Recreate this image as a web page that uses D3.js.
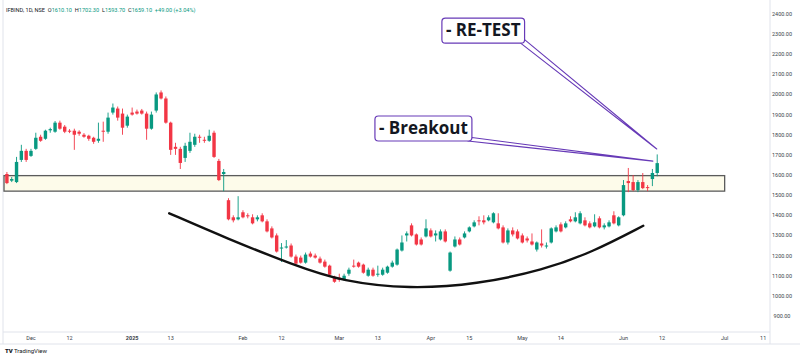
<!DOCTYPE html>
<html><head><meta charset="utf-8">
<script src="https://cdn.jsdelivr.net/npm/d3@7/dist/d3.min.js"></script>
<style>html,body{margin:0;padding:0;background:#fff;}svg{display:block;}</style>
</head><body>
<script>
// ---- data ----
const opens  = [1605,1572,1565,1675,1720,1695,1730,1790,1780,1822,1815,1860,1840,1820,1820,1815,1800,1795,1785,1770,1820,1815,1910,1930,1905,1845,1910,1915,1920,1905,1830,1920,2010,1980,1860,1740,1730,1685,1720,1750,1790,1775,1770,1810,1670,1605,1475,1390,1380,1415,1400,1390,1380,1400,1370,1335,1300,1235,1240,1250,1195,1190,1165,1210,1200,1185,1170,1150,1095,1090,1080,1110,1150,1165,1155,1100,1130,1105,1105,1115,1145,1155,1225,1300,1350,1305,1280,1295,1325,1300,1280,1320,1125,1245,1280,1290,1320,1345,1375,1375,1375,1365,1360,1340,1265,1325,1320,1300,1285,1270,1230,1260,1245,1265,1320,1355,1340,1380,1370,1360,1375,1360,1345,1385,1340,1345,1400,1350,1400,1570,1565,1525,1565,1540,1580,1610.10];
const highs  = [1615,1590,1690,1750,1730,1730,1810,1800,1825,1835,1868,1870,1848,1828,1830,1822,1808,1800,1790,1860,1865,1910,1955,1940,1930,1900,1935,1925,1928,1915,1915,2010,2020,1990,1865,1760,1740,1760,1810,1805,1800,1790,1825,1820,1680,1630,1485,1400,1495,1425,1410,1405,1400,1410,1380,1345,1310,1262,1277,1260,1205,1200,1215,1220,1210,1195,1180,1155,1100,1110,1110,1140,1180,1170,1160,1140,1140,1150,1140,1150,1175,1235,1300,1320,1360,1310,1290,1380,1335,1325,1330,1330,1220,1295,1290,1320,1345,1375,1395,1400,1400,1415,1410,1350,1335,1340,1330,1310,1295,1310,1270,1330,1265,1340,1350,1365,1370,1395,1415,1420,1390,1370,1405,1395,1360,1375,1420,1395,1575,1635,1600,1575,1610,1550,1630,1702.30];
const lows   = [1555,1565,1560,1665,1665,1690,1725,1765,1775,1810,1810,1825,1808,1808,1725,1795,1785,1770,1755,1760,1765,1805,1900,1870,1800,1835,1895,1900,1900,1775,1825,1910,1975,1855,1700,1700,1630,1665,1710,1740,1760,1760,1765,1685,1570,1520,1375,1365,1375,1385,1385,1355,1370,1365,1315,1285,1215,1168,1235,1190,1150,1160,1160,1190,1185,1160,1140,1100,1065,1070,1075,1100,1140,1140,1110,1095,1095,1095,1100,1110,1140,1150,1220,1270,1295,1250,1250,1290,1290,1270,1275,1265,1120,1240,1250,1285,1315,1340,1350,1355,1370,1360,1330,1260,1255,1295,1280,1260,1265,1250,1220,1240,1235,1260,1315,1315,1335,1365,1365,1355,1345,1335,1340,1335,1330,1340,1355,1345,1395,1515,1520,1515,1530,1520,1545,1593.70];
const closes = [1560,1580,1665,1720,1675,1720,1785,1770,1820,1828,1860,1830,1815,1815,1800,1805,1790,1780,1765,1780,1815,1885,1935,1885,1835,1890,1900,1905,1905,1830,1900,2000,1980,1860,1725,1730,1660,1745,1765,1790,1785,1770,1795,1690,1575,1615,1380,1375,1390,1390,1395,1360,1390,1370,1320,1290,1220,1240,1245,1195,1160,1165,1205,1195,1190,1165,1145,1105,1070,1080,1100,1130,1145,1145,1115,1130,1100,1110,1130,1145,1165,1230,1265,1310,1300,1255,1255,1335,1295,1310,1320,1270,1215,1280,1255,1310,1340,1365,1370,1365,1390,1410,1335,1265,1325,1305,1285,1265,1275,1255,1265,1250,1250,1335,1340,1320,1360,1370,1390,1410,1350,1340,1365,1340,1350,1365,1360,1390,1550,1560,1525,1565,1535,1535,1610,1659.10];

// x-axis ticks (bar index -> label)
const tickIndex  = [5, 13, 26, 34, 49, 57, 69, 77, 88, 96, 107, 115, 128, 136, 149, 157];
const tickLabels = ["Dec","12","2025","13","Feb","12","Mar","13","Apr","15","May","14","Jun","12","Jul","11"];
const boldTicks  = ["2025"];

// price axis ticks
const priceTicks = [900,1000,1100,1200,1300,1400,1500,1600,1700,1800,1900,2000,2100,2200,2300,2400];

// support zone [startIndex, endIndex, low, high]
const zone = [-0.6, 149, 1520, 1597];

// rounding-bottom arc (bar index, price)
const arcIdx   = [33.7, 45.6, 59.5, 69.8, 83.7, 97.5, 111.4, 121.7, 132.1];
const arcPrice = [1410, 1286, 1153, 1070, 1034, 1057, 1128, 1219, 1348];

// callouts: text, box left index, box top price, tip index, tip price
const calloutText  = ["- RE-TEST", "- Breakout"];
const calloutBoxX  = [90.3, 76.4];
const calloutBoxY  = [2379, 1893];
const calloutTipX  = [134.9, 134.1];
const calloutTipY  = [1729, 1669];

const header = [
  ["IFBIND, 1D, NSE  ", "#131722"],
  ["O", "#131722"], ["1610.10  ", "#089981"],
  ["H", "#131722"], ["1702.30  ", "#089981"],
  ["L", "#131722"], ["1593.70  ", "#089981"],
  ["C", "#131722"], ["1659.10  ", "#089981"],
  ["+49.00 (+3.04%)", "#089981"]
];

// ---- drawing ----
const W = 800, H = 359;
const UP = "#089981", DOWN = "#F23645", PURPLE = "#673ab7", AXIS = "#e0e3eb";
const svg = d3.select("body").append("svg").attr("width", W).attr("height", H);

const x = d3.scaleLinear().domain([0, 157]).range([6.9, 763.2]);
const y = d3.scaleLinear().domain([900, 2400]).range([316, 13.9]);

// frame
svg.append("line").attr("x1", 770).attr("x2", 770).attr("y1", 0).attr("y2", 344).attr("stroke", AXIS);
svg.append("line").attr("x1", 3).attr("x2", 770).attr("y1", 332).attr("y2", 332).attr("stroke", AXIS);
svg.append("line").attr("x1", 0).attr("x2", 800).attr("y1", 344).attr("y2", 344).attr("stroke", AXIS);
svg.append("line").attr("x1", 3).attr("x2", 3).attr("y1", 0).attr("y2", 344).attr("stroke", AXIS);

// zone
svg.append("rect")
  .attr("x", x(zone[0])).attr("y", y(zone[3]))
  .attr("width", x(zone[1]) - x(zone[0])).attr("height", y(zone[2]) - y(zone[3]))
  .attr("fill", "#fdfbea").attr("stroke", "#5b5b5b").attr("stroke-width", 1.3);

// candles
const n = opens.length;
const idx = d3.range(n);
const bw = 3.4;
const g = svg.append("g");
g.selectAll("line.wick").data(idx).join("line")
  .attr("x1", i => x(i)).attr("x2", i => x(i))
  .attr("y1", i => y(highs[i])).attr("y2", i => y(lows[i]))
  .attr("stroke", i => closes[i] >= opens[i] ? UP : DOWN).attr("stroke-width", 0.9);
g.selectAll("rect.body").data(idx).join("rect")
  .attr("x", i => x(i) - bw / 2)
  .attr("y", i => y(Math.max(opens[i], closes[i])))
  .attr("width", bw)
  .attr("height", i => Math.max(1, Math.abs(y(opens[i]) - y(closes[i]))))
  .attr("fill", i => closes[i] >= opens[i] ? UP : DOWN);

// arc
const arcPts = arcIdx.map((v, i) => [x(v), y(arcPrice[i])]);
svg.append("path").attr("d", d3.line().curve(d3.curveBasis)(arcPts))
  .attr("fill", "none").attr("stroke", "#111").attr("stroke-width", 2.4).attr("stroke-linecap", "round");

// callouts
calloutText.forEach((t, i) => {
  const bx = x(calloutBoxX[i]), by = y(calloutBoxY[i]);
  const txt = svg.append("text").attr("x", bx + 4).attr("y", by + 18)
    .attr("font-family", "Open Sans").attr("font-weight", 700).attr("font-size", 17)
    .attr("fill", "#131722").text(t);
  const tw = txt.node().getComputedTextLength();
  const bwid = tw + 8, bh = 25;
  const tx = x(calloutTipX[i]), ty = y(calloutTipY[i]);
  svg.insert("path", "text")
    .attr("d", `M${bx + bwid - 4},${by + bh} L${tx},${ty} L${bx + bwid},${by + bh - 3.5} Z`)
    .attr("fill", "#fff").attr("stroke", PURPLE).attr("stroke-width", 1.1).attr("stroke-linejoin", "round");
  svg.insert("rect", "text")
    .attr("x", bx).attr("y", by).attr("width", bwid).attr("height", bh).attr("rx", 3.5)
    .attr("fill", "#fff").attr("stroke", PURPLE).attr("stroke-width", 1.2);
  txt.raise();
});

// price axis
svg.append("g").selectAll("text").data(priceTicks).join("text")
  .attr("x", 782).attr("y", d => y(d) + 2).attr("text-anchor", "middle")
  .attr("font-family", "Roboto").attr("font-size", 5.5).attr("fill", "#3b3f4a")
  .text(d => d.toFixed(2));

// time axis
svg.append("g").selectAll("text").data(tickIndex).join("text")
  .attr("x", d => x(d)).attr("y", 340).attr("text-anchor", "middle")
  .attr("font-family", "Roboto").attr("font-size", 5.5).attr("fill", "#3b3f4a")
  .attr("font-weight", (d, i) => boldTicks.includes(tickLabels[i]) ? 700 : 400)
  .text((d, i) => tickLabels[i]);

// header
const ht = svg.append("text").attr("x", 6).attr("y", 11.5)
  .attr("font-family", "Roboto").attr("font-size", 5.6);
header.forEach(([s, c]) => ht.append("tspan").attr("fill", c).attr("xml:space", "preserve").text(s));
ht.attr("style", "white-space:pre");

// TradingView watermark
svg.append("text").attr("x", 5).attr("y", 352.5).attr("font-family", "Roboto").attr("font-weight", 900)
  .attr("font-size", 6).attr("fill", "#131722").text("TV");
svg.append("text").attr("x", 14).attr("y", 352.5).attr("font-family", "Roboto")
  .attr("font-size", 6).attr("fill", "#131722").text("TradingView");
</script>
</body></html>
